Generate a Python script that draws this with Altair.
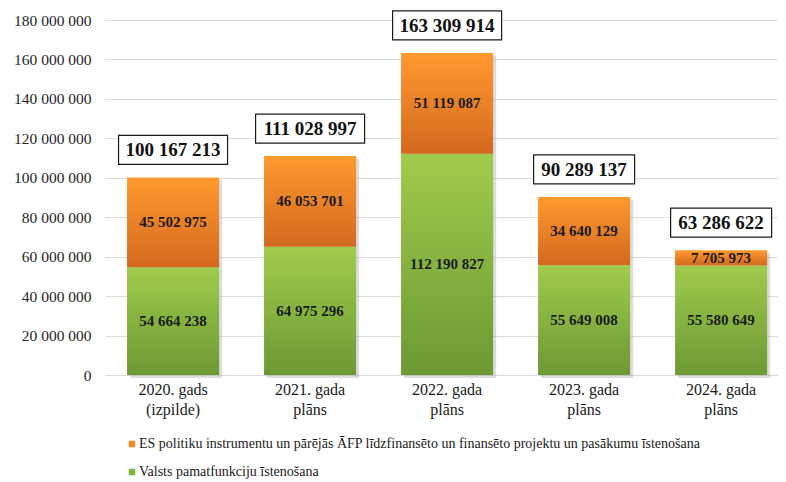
import altair as alt
import pandas as pd

categories = ["2020. gads (izpilde)", "2021. gada plāns", "2022. gada plāns",
              "2023. gada plāns", "2024. gada plāns"]
valsts = [54664238, 64975296, 112190827, 55649008, 55580649]
es = [45502975, 46053701, 51119087, 34640129, 7705973]
totals = [100167213, 111028997, 163309914, 90289137, 63286622]
series_names = [
    "ES politiku instrumentu un pārējās ĀFP līdzfinansēto un finansēto projektu un pasākumu īstenošana",
    "Valsts pamatfunkciju īstenošana",
]
y_ticks = [0, 20000000, 40000000, 60000000, 80000000, 100000000,
           120000000, 140000000, 160000000, 180000000]


def fmt(v):
    return f"{v:,}".replace(",", " ")


df = pd.DataFrame({
    "cat": categories,
    "valsts": valsts,
    "es": es,
    "total": totals,
})
df["valsts_lbl"] = [fmt(v) for v in valsts]
df["es_lbl"] = [fmt(v) for v in es]
df["total_lbl"] = [fmt(v) for v in totals]
df["boxw"] = [8 * len(s) + 21 for s in df["total_lbl"]]

legend_df = pd.DataFrame({"series": series_names, "cat": categories[:2], "v": [0, 0]})

FONT = "Liberation Serif"

xscale = alt.Scale(domain=categories, paddingInner=0.328, paddingOuter=0.12, align=0.67)
yscale = alt.Scale(domain=[0, 180000000], nice=False)

x_axis = alt.Axis(labelAngle=0, labelFontSize=16, labelColor="#1a1a1a", labelFont=FONT,
                  ticks=False, domainColor="#d9d9d9", labelPadding=6, labelLineHeight=20,
                  labelExpr="[substring(datum.label, 0, 10), substring(datum.label, 11)]")
x_enc = alt.X("cat:N", scale=xscale, sort=categories, title=None, axis=x_axis)
y_axis = alt.Axis(values=y_ticks, format=",d", labelFontSize=15.5, labelColor="#262626",
                  labelFont=FONT, ticks=False, domain=False, grid=True, gridColor="#dcdcdc",
                  labelPadding=14, title=None, labelOverlap=False, labelFlush=False)

green_grad = alt.Gradient(
    gradient="linear",
    stops=[alt.GradientStop(color="#9FCC4C", offset=0),
           alt.GradientStop(color="#6C9934", offset=1)],
    x1=0, x2=0, y1=0, y2=1,
)
orange_grad = alt.Gradient(
    gradient="linear",
    stops=[alt.GradientStop(color="#FF9A2F", offset=0),
           alt.GradientStop(color="#D2691F", offset=1)],
    x1=0, x2=0, y1=0, y2=1,
)

base = alt.Chart(df)

shadow = base.mark_bar(color="#9a9a9a", opacity=0.35, xOffset=3, yOffset=3, y2Offset=0).encode(
    x=x_enc,
    y=alt.Y("total:Q", scale=yscale, axis=y_axis),
)

green = base.mark_bar(fill=green_grad).encode(
    x=x_enc,
    y=alt.Y("valsts:Q", scale=yscale, axis=y_axis),
)
orange = base.mark_bar(fill=orange_grad).encode(
    x=x_enc,
    y=alt.Y("total:Q", scale=yscale, axis=y_axis),
    y2="valsts:Q",
)

green_txt = base.transform_calculate(mid="datum.valsts / 2").mark_text(
    font=FONT, fontSize=15, fontWeight="bold", color="#1a1a1a", baseline="middle"
).encode(x=x_enc, y=alt.Y("mid:Q", scale=yscale, axis=y_axis), text="valsts_lbl:N")

orange_txt = base.transform_calculate(mid="datum.valsts + datum.es / 2").mark_text(
    font=FONT, fontSize=15, fontWeight="bold", color="#1a1a1a", baseline="middle"
).encode(x=x_enc, y=alt.Y("mid:Q", scale=yscale, axis=y_axis), text="es_lbl:N")

box = base.mark_bar(fill="white", stroke="#1a1a1a", strokeWidth=1.2,
                    yOffset=-42, y2Offset=-13).encode(
    x=x_enc,
    y=alt.Y("total:Q", scale=yscale, axis=y_axis),
    y2="total:Q",
    size=alt.Size("boxw:Q", scale=None, legend=None),
)

total_txt = base.mark_text(font=FONT, fontSize=19, fontWeight="bold", color="#111111",
                           baseline="middle", dy=-27).encode(
    x=x_enc, y=alt.Y("total:Q", scale=yscale, axis=y_axis), text="total_lbl:N")

legend_layer = alt.Chart(legend_df).mark_square(opacity=0).encode(
    x=alt.X("cat:N", scale=xscale, sort=categories, title=None, axis=x_axis),
    y=alt.Y("v:Q", scale=yscale, axis=y_axis),
    color=alt.Color(
        "series:N",
        scale=alt.Scale(domain=series_names, range=["#F28A2E", "#84B340"]),
        legend=alt.Legend(
            orient="none", legendX=20, legendY=417, direction="vertical", title=None,
            symbolType="square", symbolSize=42, symbolOpacity=1, symbolStrokeWidth=0,
            labelFont=FONT, labelFontSize=14, labelColor="#1a1a1a", labelOffset=0,
            rowPadding=14, padding=0, labelLimit=800,
        ),
    ),
)

chart = alt.layer(shadow, green, orange, green_txt, orange_txt, box, total_txt, legend_layer).properties(
    width=673, height=355,
    autosize=alt.AutoSizeParams(type="none"),
    padding={"left": 97, "top": 12, "right": 0, "bottom": 106},
).configure(
    locale=alt.Locale(number=alt.NumberLocale(decimal=",", thousands=" ", grouping=[3],
                                              currency=["", ""])),
    font=FONT,
).configure_axis(
    labelFont=FONT,
).configure_legend(
    labelFont=FONT,
).configure_text(
    font=FONT,
).configure_view(stroke=None)

chart.save("out.html", embed_options={"renderer": "svg", "actions": False})
